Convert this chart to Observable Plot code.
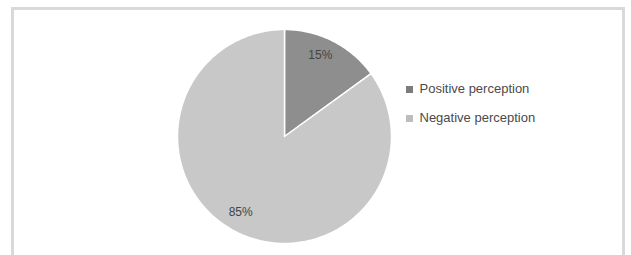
<!DOCTYPE html>
<html>
<head>
<meta charset="utf-8">
<script src="https://cdn.jsdelivr.net/npm/d3@7"></script>
<script src="https://cdn.jsdelivr.net/npm/@observablehq/plot@0.6"></script>
<style>
  html, body { margin: 0; padding: 0; background: #fff; }
  #wrap { position: relative; width: 631px; height: 255px; overflow: hidden; font-family: "Liberation Sans", Arial, sans-serif; }
  #frame { position: absolute; left: 11px; top: 7px; width: 614px; height: 260px; border: 3px solid #d9d9d9; box-sizing: border-box; pointer-events: none; }
  #chart { position: absolute; left: 0; top: 0; }
  #legend { position: absolute; left: 406px; top: 75px; }
</style>
</head>
<body>
<div id="wrap">
  <div id="chart"></div>
  <div id="legend"></div>
  <div id="frame"></div>
</div>
<script>
const categories = ["Positive perception", "Negative perception"];
const values = [15, 85];
const labels = ["15%", "85%"];
const colors = ["#8e8e8e", "#c8c8c8"];

const pie = d3.pie().sort(null).value(d => d.value);
const arcs = pie(categories.map((c, i) => ({category: c, value: values[i], label: labels[i]})));

// polygon vertices in unit-circle data space (angle measured clockwise from top)
const polys = [];
arcs.forEach(a => {
  const n = Math.max(4, Math.ceil((a.endAngle - a.startAngle) / (Math.PI / 180)));
  polys.push({category: a.data.category, x: 0, y: 0});
  for (let k = 0; k <= n; k++) {
    const t = a.startAngle + (a.endAngle - a.startAngle) * k / n;
    polys.push({category: a.data.category, x: Math.sin(t), y: Math.cos(t)});
  }
  polys.push({category: a.data.category, x: 0, y: 0});
});
const labelPts = arcs.map(a => {
  const m = (a.startAngle + a.endAngle) / 2;
  return {label: a.data.label, x: 0.82 * Math.sin(m), y: 0.82 * Math.cos(m)};
});

const chart = Plot.plot({
  width: 631,
  height: 255,
  marginLeft: 177,
  marginRight: 240,
  marginTop: 29,
  marginBottom: 12,
  x: {domain: [-1, 1], axis: null},
  y: {domain: [-1, 1], axis: null},
  color: {domain: categories, range: colors},
  style: {background: "transparent"},
  marks: [
    Plot.line(polys, {x: "x", y: "y", z: "category", fill: "category", stroke: "#ffffff", strokeWidth: 1.5, strokeLinejoin: "round", curve: "linear"}),
    Plot.text(labelPts, {x: "x", y: "y", text: "label", fill: "#444", fontSize: 12, dx: -4, dy: -3, fontFamily: "Liberation Sans, Arial, sans-serif"})
  ]
});
document.getElementById("chart").appendChild(chart);

const legend = Plot.legend({
  color: {domain: categories, range: ["#7c7c7c", "#bdbdbd"]},
  columns: 1,
  swatchSize: 7,
  style: {fontFamily: "Liberation Sans, Arial, sans-serif", fontSize: "13px", color: "#4a4a4a", lineHeight: "28px"}
});
document.getElementById("legend").appendChild(legend);
</script>
</body>
</html>
